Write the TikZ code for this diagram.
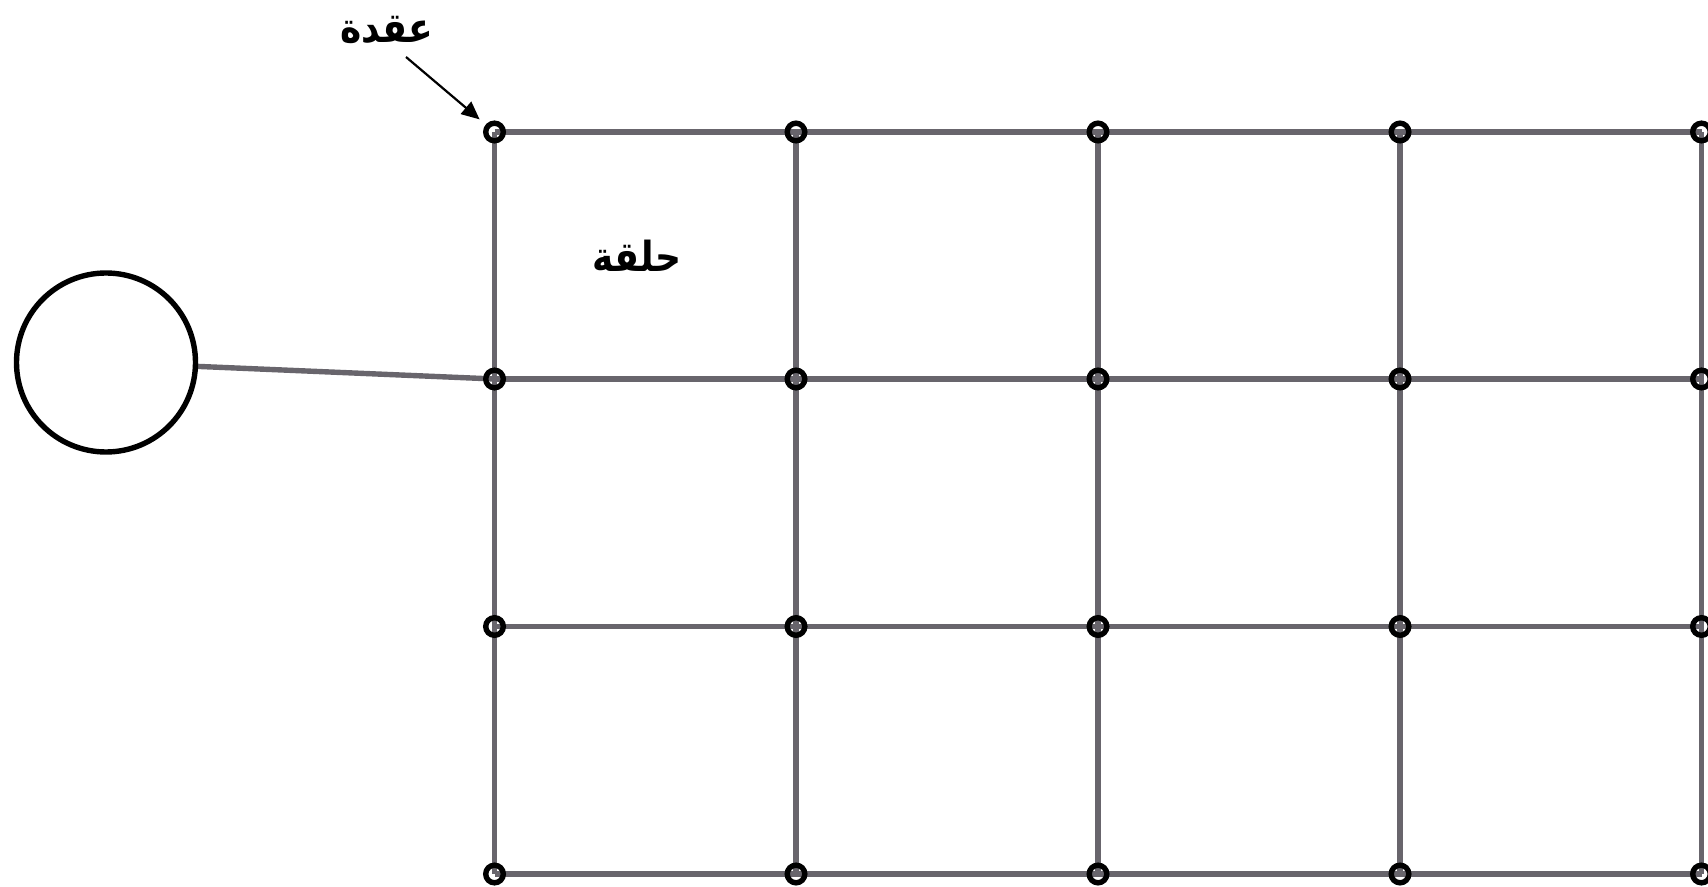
\documentclass[tikz,border=0pt]{standalone}
\usepackage{fontspec}
\TeXXeTstate=1
\newfontfamily\arabicfont[Script=Arabic]{DejaVu Sans}
\usetikzlibrary{arrows.meta,backgrounds}
\definecolor{gridgray}{RGB}{104,101,108}
\begin{document}
\begin{tikzpicture}[x=0.5pt,y=-0.5pt,
  ring/.style={circle,draw=black,line width=2.7pt,inner sep=0pt,minimum size=8.8pt},
  gridline/.style={draw=gridgray,line width=2.7pt},
  bigcirc/.style={circle,draw=black,line width=2.7pt,inner sep=0pt,minimum size=89.5pt,outer sep=0pt},
  lbl/.style={font=\arabicfont\bfseries\fontsize{18pt}{20pt}\selectfont,inner sep=0pt},
  pointer/.style={draw=black,line width=1.1pt,-{Triangle[length=9pt,width=8pt]}}]
\useasboundingbox (0,0) rectangle (1708,887);
\foreach \i/\y in {1/132,2/379,3/626.5,4/874}{
  \foreach \j/\x in {1/494.5,2/796,3/1098,4/1400,5/1701.5}{
    \node[ring] (n\i\j) at (\x,\y) {};
  }
}
\node[bigcirc] (big) at (106,362.5) {};
\node[lbl,yscale=1.15] (knot) at (387,30) {\beginR عقدة\endR};
\node[lbl,yscale=1.15] (loop) at (637,256) {\beginR حلقة\endR};
\coordinate (arrstart) at (406,57);
\begin{scope}[on background layer]
  \foreach \i in {1,2,3,4}{
    \foreach \j/\k in {1/2,2/3,3/4,4/5}{
      \draw[gridline] (n\i\j.center) -- (n\i\k.center);
    }
  }
  \foreach \j in {1,2,3,4,5}{
    \foreach \i/\k in {1/2,2/3,3/4}{
      \draw[gridline] (n\i\j.center) -- (n\k\j.center);
    }
  }
  \draw[gridline] (big) -- (n21.center);
\end{scope}
\draw[pointer,shorten >=4pt] (arrstart) -- (n11);
\end{tikzpicture}
\end{document}
